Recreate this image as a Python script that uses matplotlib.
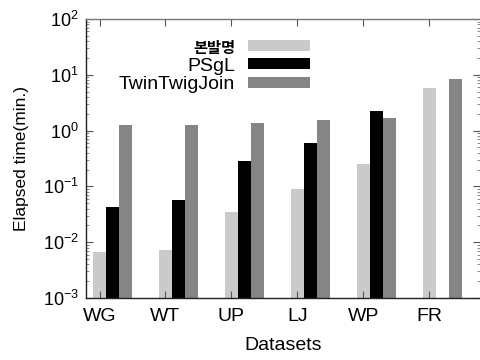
import numpy as np
import matplotlib
matplotlib.use('Agg')
import matplotlib.pyplot as plt

plt.rcParams['font.family'] = ['Liberation Sans', 'Noto Sans CJK KR', 'DejaVu Sans']

# data (minutes, log scale)
datasets = ['WG', 'WT', 'UP', 'LJ', 'WP', 'FR']
series_names = ['본발명', 'PSgL', 'TwinTwigJoin']
ours = [0.0068, 0.0073, 0.035, 0.091, 0.25, 5.9]
psgl = [0.042, 0.057, 0.29, 0.61, 2.24, np.nan]   # no PSgL result for FR
ttj = [1.24, 1.24, 1.35, 1.53, 1.68, 8.4]
colors = ['#cacaca', '#000000', '#858585']

fig = plt.figure(figsize=(4.8, 3.6), dpi=100)
ax = fig.add_axes([86 / 480, 1 - 298 / 360, 1 - 86 / 480, (298 - 19) / 360])

x = np.arange(len(datasets))
w = 0.198
for k, (vals, name, col) in enumerate(zip([ours, psgl, ttj], series_names, colors)):
    ax.bar(x + k * w, vals, width=w, color=col, edgecolor='none', label=name)

ax.set_yscale('log')
ax.set_ylim(1e-3, 1e2)
ax.set_xlim(-0.205, 5.77)
ax.set_xticks(x)
ax.set_xticklabels(datasets)

ax.tick_params(axis='both', which='major', direction='in', labelsize=13,
               top=True, right=True, length=5, width=0.8, color='#555555')
ax.tick_params(axis='x', which='major', labelsize=14, pad=7)
ax.tick_params(axis='y', which='minor', direction='in', right=True,
               length=2.5, width=0.6, color='#777777')
ax.tick_params(axis='y', which='major', pad=5)

for side in ['left', 'bottom']:
    ax.spines[side].set_linewidth(1.0)
    ax.spines[side].set_color('#222222')
ax.spines['top'].set_linewidth(1.0)
ax.spines['top'].set_color('#777777')
ax.spines['right'].set_visible(False)

ax.set_ylabel('Elapsed time(min.)', fontsize=12.5, labelpad=10)
ax.set_xlabel('Datasets', fontsize=14, labelpad=9)

leg = ax.legend(loc='upper right', bbox_to_anchor=(310 / 480, 1 - 40 / 360),
                bbox_transform=fig.transFigure, frameon=False,
                markerfirst=False, fontsize=14, handlelength=3.2,
                handleheight=0.52, handletextpad=0.65, labelspacing=0.1,
                borderpad=0, borderaxespad=0)
leg.get_texts()[0].set_fontweight('bold')
leg.get_texts()[0].set_fontsize(11)

fig.savefig('out.png', dpi=100)
